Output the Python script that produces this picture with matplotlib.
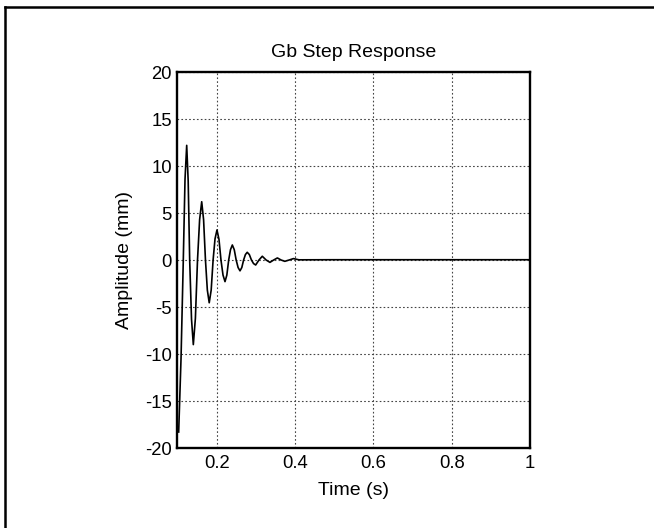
import matplotlib
matplotlib.use("Agg")
import matplotlib.pyplot as plt
from matplotlib.lines import Line2D

plt.rcParams['font.family'] = ['Liberation Sans', 'DejaVu Sans']
plt.rcParams['axes.unicode_minus'] = False

# step response (time in s, amplitude in mm)
t = [0.1030, 0.1090, 0.1148, 0.1192, 0.1235, 0.1273, 0.1311, 0.1358, 0.1404,
     0.1457, 0.1511, 0.1565, 0.1618, 0.1666, 0.1714, 0.1762, 0.1810, 0.1860,
     0.1909, 0.1958, 0.2008, 0.2059, 0.2110, 0.2162, 0.2213, 0.2260, 0.2307,
     0.2353, 0.2400, 0.2449, 0.2498, 0.2547, 0.2596, 0.2642, 0.2688, 0.2734,
     0.2780, 0.2834, 0.2888, 0.2942, 0.2996, 0.3080, 0.3165, 0.3263, 0.3360,
     0.3455, 0.3550, 0.3645, 0.3740, 0.3850, 0.3960, 0.4100, 0.5000, 0.7000,
     1.0000]
amp = [-18.3, -10.5, 0.0, 8.6, 12.2, 8.4, 0.0, -6.3, -9.0,
       -6.2, 0.0, 4.3, 6.2, 4.3, 0.0, -3.2, -4.55, -3.2,
       0.0, 2.25, 3.2, 2.2, 0.0, -1.6, -2.3, -1.6, 0.0,
       1.1, 1.6, 1.1, 0.0, -0.8, -1.15, -0.8, 0.0, 0.58,
       0.82, 0.58, 0.0, -0.38, -0.53, 0.0, 0.4, 0.0, -0.25,
       0.0, 0.22, 0.0, -0.14, 0.0, 0.15, 0.02, 0.03, 0.03,
       0.03]

xticks = [0.2, 0.4, 0.6, 0.8, 1.0]
xtick_labels = ['0.2', '0.4', '0.6', '0.8', '1']
yticks = [-20, -15, -10, -5, 0, 5, 10, 15, 20]

fig = plt.figure(figsize=(6.54, 5.28), dpi=100)
ax = fig.add_axes([0.2714, 0.1515, 0.539, 0.7121])

ax.plot(t, amp, color='black', linewidth=1.2)

ax.set_xlim(0.1, 1.0)
ax.set_ylim(-20, 20)
ax.set_xticks(xticks)
ax.set_xticklabels(xtick_labels)
ax.set_yticks(yticks)
ax.tick_params(length=0, labelsize=13.3)
ax.tick_params(axis='y', pad=4)
ax.tick_params(axis='x', pad=5)
ax.grid(True, linestyle=(0, (1.5, 2)), color='#444444', linewidth=0.8)
for s in ax.spines.values():
    s.set_linewidth(1.7)

ax.set_title('Gb Step Response', fontsize=14, pad=11)
ax.set_xlabel('Time (s)', fontsize=14, labelpad=7)
ax.set_ylabel('Amplitude (mm)', fontsize=14, labelpad=9)

# frame lines at the top and left edge of the window
fig.add_artist(Line2D([0.007, 0.007], [0.0, 0.9867], transform=fig.transFigure,
                      color='black', linewidth=1.8))
fig.add_artist(Line2D([0.007, 1.0], [0.9867, 0.9867], transform=fig.transFigure,
                      color='black', linewidth=1.8))

fig.savefig('out.png', dpi=100)
